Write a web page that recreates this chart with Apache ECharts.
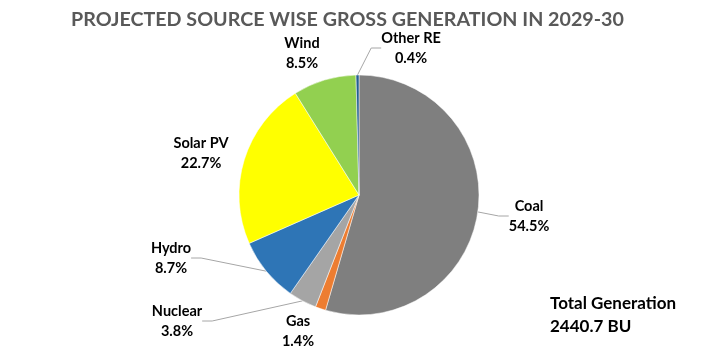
<!DOCTYPE html>
<html><head><meta charset="utf-8">
<script src="https://cdn.jsdelivr.net/npm/echarts@6/dist/echarts.min.js"></script>
<style>html,body{margin:0;padding:0;background:#fff}#c{width:708px;height:350px}</style>
</head><body><div id="c"></div>
<script>
const categories = ['Coal', 'Gas', 'Nuclear', 'Hydro', 'Solar PV', 'Wind', 'Other RE'];
const shares = [54.5, 1.4, 3.8, 8.7, 22.7, 8.5, 0.4];
const colors = ['#7F7F7F', '#ED7D31', '#A5A5A5', '#2E75B6', '#FFFF00', '#92D050', '#255E91'];
const showLine = [true, false, true, true, false, false, true];
// label block centres (pixels in the 708x350 canvas)
const labelPos = [[529, 216], [298, 331], [177, 321], [171, 258], [201, 153], [302, 53], [411, 48]];
const titleText = 'PROJECTED SOURCE WISE GROSS GENERATION IN 2029-30';
const totalText = ['Total Generation', '2440.7 BU'];

const FONT = 'Lato';
const chart = echarts.init(document.getElementById('c'), null, {renderer: 'canvas'});
chart.setOption({
  animation: false,
  title: {
    text: titleText, left: 66, top: 5,
    textStyle: {fontFamily: FONT, fontWeight: 'bold', fontSize: 19.7, color: '#595959'}
  },
  graphic: [{
    type: 'text', left: 550, top: 292,
    style: {text: totalText.join('\n'), fontFamily: FONT, fontWeight: 'bold', fontSize: 17, lineHeight: 23, fill: '#000'}
  }],
  series: [{
    type: 'pie',
    center: [359, 195],
    radius: [0, 120],
    startAngle: 90,
    clockwise: true,
    itemStyle: {borderColor: '#fff', borderWidth: 0.5},
    label: {
      show: true, position: 'outside',
      fontFamily: FONT, fontWeight: 'bold', fontSize: 14.5, lineHeight: 20, color: '#000',
      formatter: p => p.name + '\n' + p.value.toFixed(1) + '%'
    },
    labelLine: {show: true, length: 10, length2: 10, lineStyle: {color: '#A6A6A6', width: 1}},
    labelLayout: function (params) {
      const i = params.dataIndex;
      return {x: labelPos[i][0], y: labelPos[i][1], align: 'center', verticalAlign: 'middle'};
    },
    data: categories.map((c, i) => ({
      name: c, value: shares[i],
      itemStyle: {color: colors[i]},
      labelLine: {show: showLine[i]}
    }))
  }]
});
</script></body></html>
